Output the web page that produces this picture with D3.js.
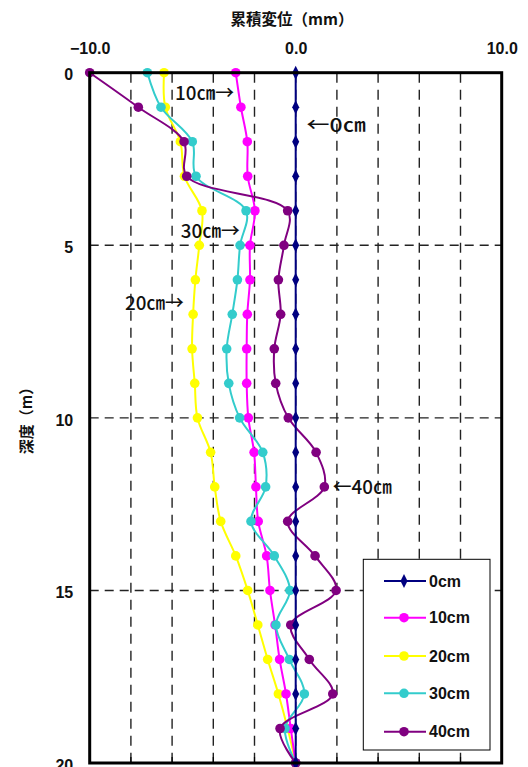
<!DOCTYPE html>
<html>
<head>
<meta charset="utf-8">
<script src="https://cdn.jsdelivr.net/npm/d3@7"></script>
<style>
  html, body { margin: 0; padding: 0; background: #fff; }
  svg { display: block; }
</style>
</head>
<body>
<div id="chart"></div>
<script>
// Depth (m) of each measuring point
const depths = [0,1,2,3,4,5,6,7,8,9,10,11,12,13,14,15,16,17,18,19,20];

// Cumulative displacement (mm) per depth, one array per series
const disp0cm  = [0,0,0,0,0,0,0,0,0,0,0,0,0,0,0,0,0,0,0,0,0];
const disp10cm = [-2.91,-2.66,-2.35,-2.33,-1.98,-2.22,-2.22,-2.35,-2.38,-2.38,-2.30,-2.02,-1.93,-1.82,-1.41,-1.25,-1.00,-0.78,-0.47,-0.24,0];
const disp20cm = [-6.39,-6.33,-5.60,-5.40,-4.55,-4.68,-4.87,-4.98,-5.03,-4.90,-4.77,-4.13,-3.93,-3.64,-2.91,-2.33,-1.84,-1.36,-0.84,-0.39,0];
const disp30cm = [-7.20,-6.54,-5.02,-4.84,-2.41,-2.70,-2.83,-3.08,-3.35,-3.25,-2.72,-1.60,-1.46,-2.17,-1.04,-0.28,-0.96,-0.31,0.42,-0.52,0];
const disp40cm = [-10.0,-7.64,-5.42,-5.29,-0.39,-0.57,-0.84,-0.73,-1.04,-0.97,-0.36,0.99,1.39,-0.39,0.94,1.96,-0.24,0.66,1.80,-0.76,0];

const seriesNames  = ["0cm","10cm","20cm","30cm","40cm"];
const seriesValues = [disp0cm, disp10cm, disp20cm, disp30cm, disp40cm];
const seriesColors = ["#000080","#ff00ff","#ffff00","#33cccc","#800080"];

// Axis ticks
const xTickLabels = [-10, 0, 10];
const xGrid = [-8,-6,-4,-2,0,2,4,6,8];
const yTickLabels = [0, 5, 10, 15, 20];
const yGrid = [5, 10, 15];

// Callout labels pointing at each series
const calloutText  = ["10㎝→", "←0㎝", "30㎝→", "20㎝→", "←40㎝"];
const calloutX     = [-5.86, 0.53, -5.58, -8.29, 1.80];
const calloutDepth = [0.59, 1.52, 4.58, 6.68, 12.0];

const W = 528, H = 767;
const svg = d3.select("#chart").append("svg").attr("width", W).attr("height", H);

const x = d3.scaleLinear().domain([-10, 10]).range([89.7, 501.7]);
const y = d3.scaleLinear().domain([0, 20]).range([72.7, 763]);

const axisFont = "'Liberation Sans', Arial, sans-serif";
const cjkFont = "'Noto Sans CJK JP', sans-serif";

// Grid lines
svg.append("g").selectAll("line").data(xGrid).join("line")
  .attr("x1", d => x(d)).attr("x2", d => x(d))
  .attr("y1", y(0)).attr("y2", y(20))
  .attr("stroke", "#222").attr("stroke-width", 1.4).attr("stroke-dasharray", "10,7");
svg.append("g").selectAll("line").data(yGrid).join("line")
  .attr("x1", x(-10)).attr("x2", x(10))
  .attr("y1", d => y(d)).attr("y2", d => y(d))
  .attr("stroke", "#222").attr("stroke-width", 1.4).attr("stroke-dasharray", "9,6");

// Inward tick marks on the bottom edge
svg.append("g").selectAll("line").data(xGrid).join("line")
  .attr("x1", d => x(d)).attr("x2", d => x(d))
  .attr("y1", y(20)).attr("y2", y(20) - 6)
  .attr("stroke", "#000").attr("stroke-width", 1.2);

// Series lines (drawn so that 0cm ends on top)
const drawOrder = [2, 1, 3, 4, 0];
const line = d3.line()
  .x(d => x(d.v)).y(d => y(d.depth))
  .curve(d3.curveCatmullRom.alpha(0.5));

const diamond = d3.symbol().type(d3.symbolDiamond).size(42);

drawOrder.forEach(i => {
  const pts = depths.map((dep, k) => ({ depth: dep, v: seriesValues[i][k] }));
  const g = svg.append("g");
  g.append("path").datum(pts)
    .attr("d", line)
    .attr("fill", "none")
    .attr("stroke", seriesColors[i])
    .attr("stroke-width", 2);
  if (i === 0) {
    g.selectAll("path.m").data(pts).join("path").attr("class", "m")
      .attr("d", diamond)
      .attr("transform", d => `translate(${x(d.v)},${y(d.depth)}) scale(1,1.15)`)
      .attr("fill", seriesColors[i]);
  } else {
    g.selectAll("circle").data(pts).join("circle")
      .attr("cx", d => x(d.v)).attr("cy", d => y(d.depth))
      .attr("r", 4.8)
      .attr("fill", seriesColors[i]);
  }
});

// Plot frame
svg.append("rect")
  .attr("x", x(-10)).attr("y", y(0))
  .attr("width", x(10) - x(-10)).attr("height", y(20) - y(0))
  .attr("fill", "none").attr("stroke", "#000").attr("stroke-width", 3);

// Top axis labels
const xAxis = d3.axisTop(x).tickValues(xTickLabels).tickSize(0).tickPadding(19)
  .tickFormat(d3.format(".1f"));
const gx = svg.append("g").attr("transform", `translate(0,${y(0)})`).call(xAxis);
gx.select(".domain").remove();
gx.selectAll("text").attr("font-family", axisFont).attr("font-size", 16)
  .attr("font-weight", "bold").attr("fill", "#111");

// Left axis labels
const yAxis = d3.axisLeft(y).tickValues(yTickLabels).tickSize(0).tickPadding(16.5);
const gy = svg.append("g").attr("transform", `translate(${x(-10)},0)`).call(yAxis);
gy.select(".domain").remove();
gy.selectAll("text").attr("font-family", axisFont).attr("font-size", 16)
  .attr("font-weight", "bold").attr("fill", "#111").attr("dy", "0.45em");

// Axis titles
svg.append("text")
  .attr("x", 292).attr("y", 25)
  .attr("text-anchor", "middle")
  .attr("font-family", cjkFont).attr("font-size", 15.5).attr("font-weight", "bold")
  .attr("fill", "#111")
  .text("累積変位（mm）");

svg.append("text")
  .attr("transform", "translate(32,417) rotate(-90)")
  .attr("text-anchor", "middle")
  .attr("font-family", cjkFont).attr("font-size", 15).attr("font-weight", "bold")
  .attr("fill", "#111")
  .text("深度（m）");

// Callouts
calloutText.forEach((t, i) => {
  svg.append("text")
    .attr("x", x(calloutX[i])).attr("y", y(calloutDepth[i]))
    .attr("dy", "0.36em")
    .attr("font-family", cjkFont).attr("font-size", 19).attr("font-weight", 500)
    .attr("fill", "#111")
    .attr("textLength", 59).attr("lengthAdjust", "spacingAndGlyphs")
    .text(t);
});

// Legend
const legend = svg.append("g");
legend.append("rect")
  .attr("x", 363.3).attr("y", 559.3).attr("width", 126.7).attr("height", 190.7)
  .attr("fill", "#fff").attr("stroke", "#000").attr("stroke-width", 1);
const legendY = [581, 617.7, 656, 693.3, 731.7];
seriesNames.forEach((name, i) => {
  const ly = legendY[i];
  legend.append("line")
    .attr("x1", 384).attr("x2", 426).attr("y1", ly).attr("y2", ly)
    .attr("stroke", seriesColors[i]).attr("stroke-width", 2);
  if (i === 0) {
    legend.append("path").attr("d", diamond)
      .attr("transform", `translate(404,${ly}) scale(1,1.15)`)
      .attr("fill", seriesColors[i]);
  } else {
    legend.append("circle").attr("cx", 404).attr("cy", ly).attr("r", 4.8)
      .attr("fill", seriesColors[i]);
  }
  legend.append("text")
    .attr("x", 429).attr("y", ly).attr("dy", "0.36em")
    .attr("font-family", axisFont).attr("font-size", 16).attr("font-weight", "bold")
    .attr("fill", "#111")
    .text(name);
});
</script>
</body>
</html>
